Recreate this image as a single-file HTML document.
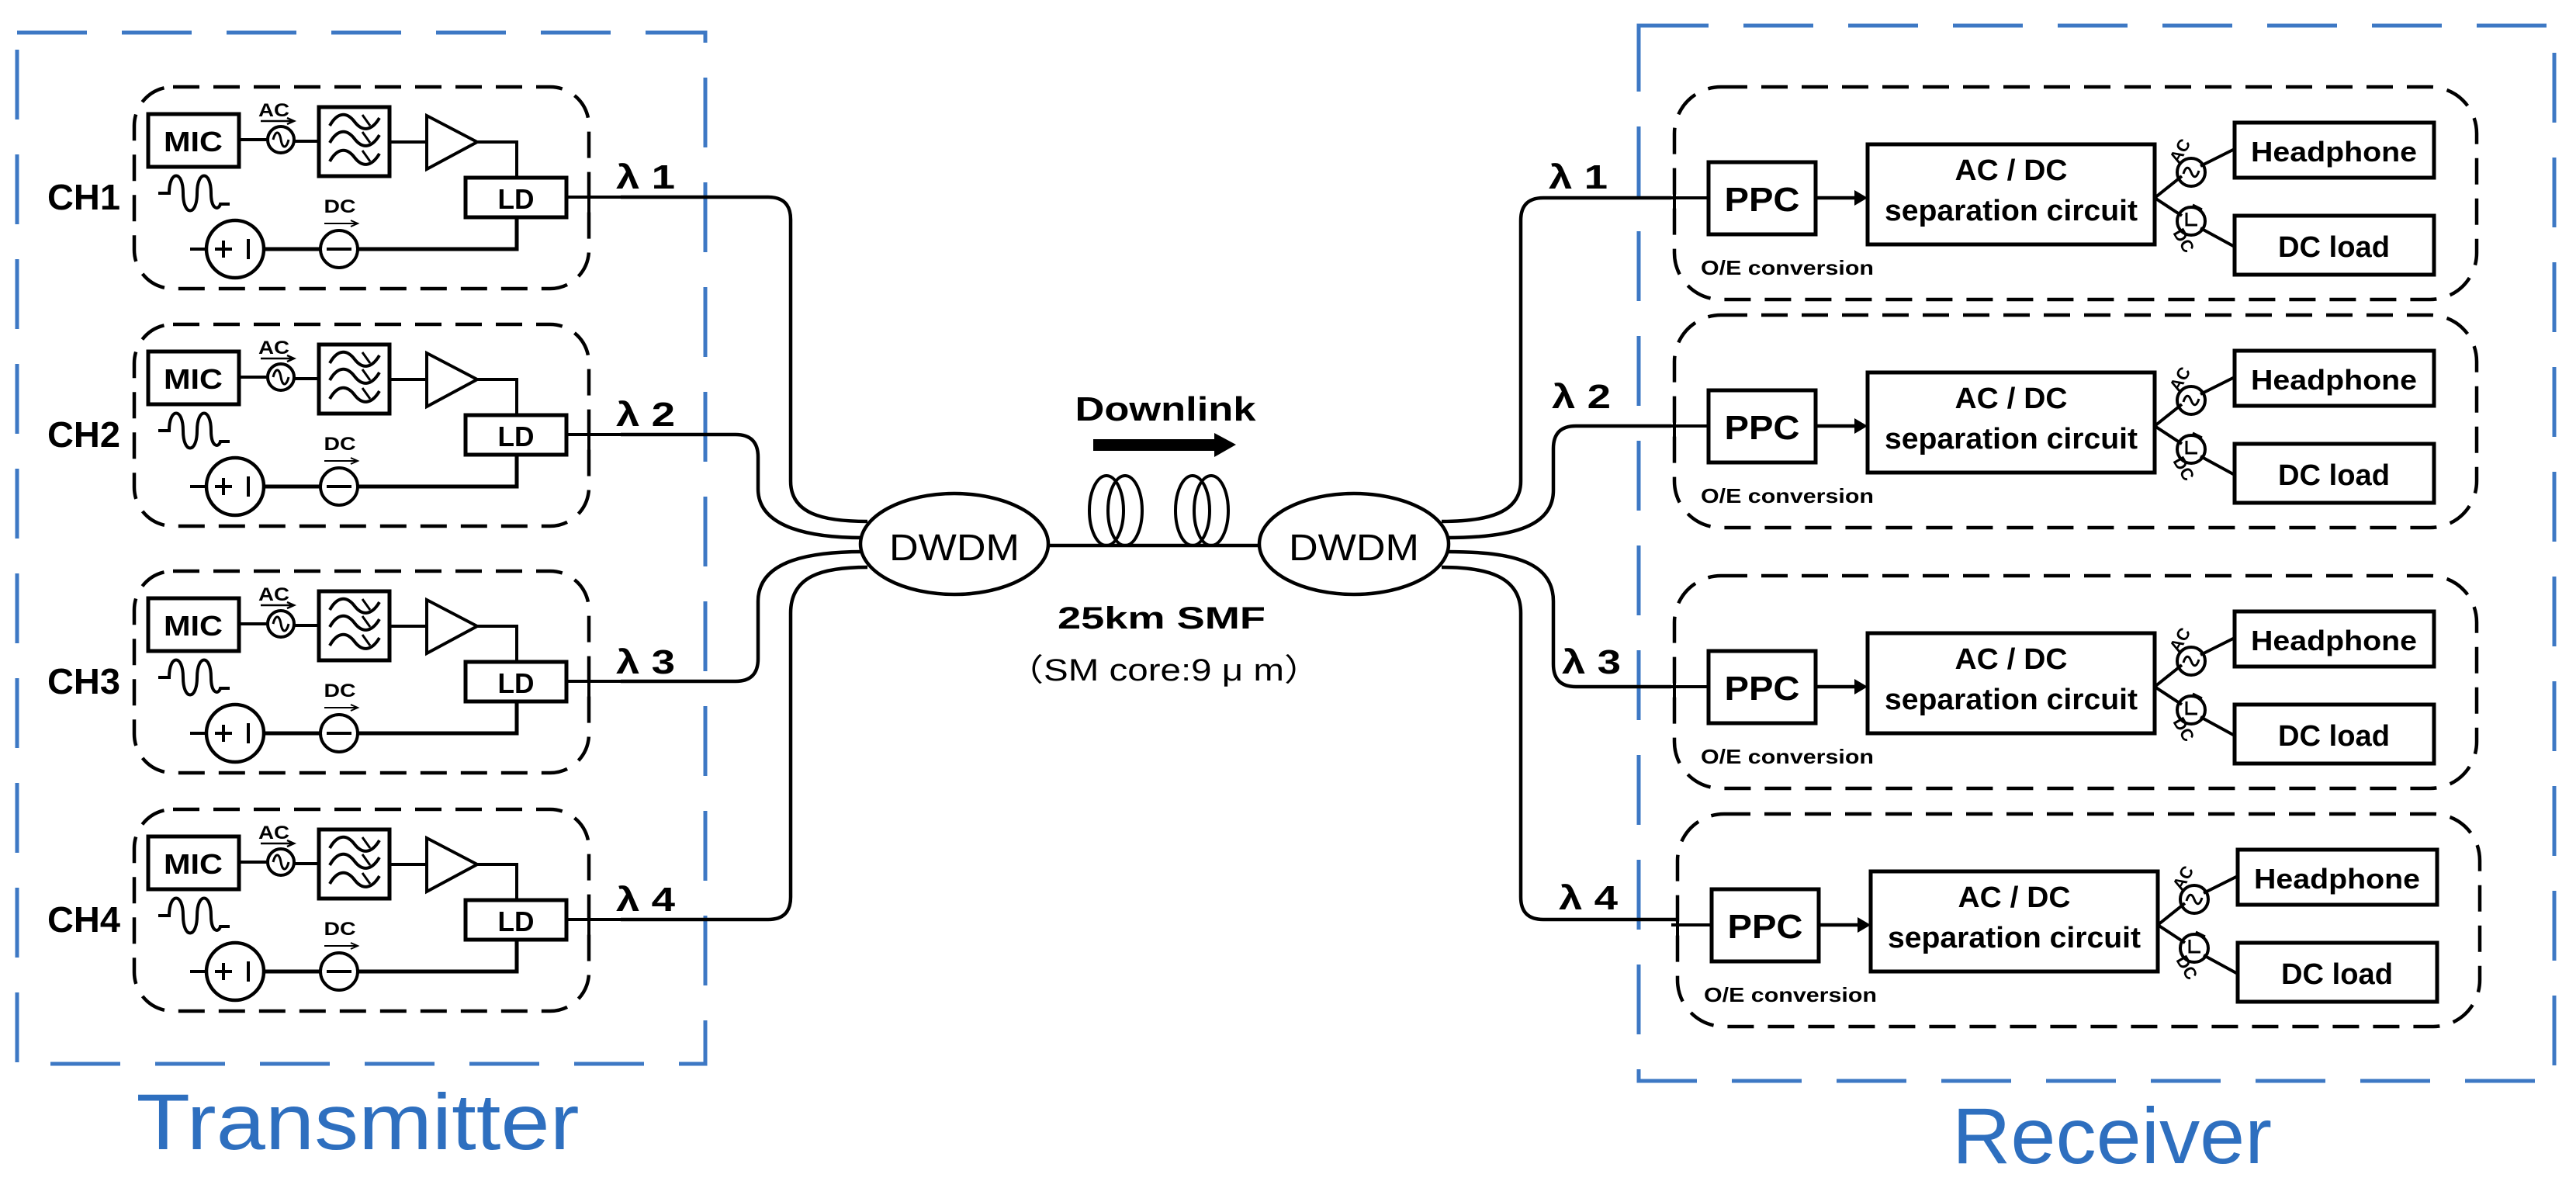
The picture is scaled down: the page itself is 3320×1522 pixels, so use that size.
<!DOCTYPE html>
<html><head><meta charset="utf-8"><style>
html,body{margin:0;padding:0;background:#fff}
svg{display:block}
text{font-family:"Liberation Sans","Noto Sans CJK SC",sans-serif;font-weight:bold;fill:#000}
</style></head><body>
<svg width="3320" height="1522" viewBox="0 0 3320 1522" xmlns="http://www.w3.org/2000/svg">
<defs>
<g id="tx">
  <rect x="173" y="0" width="586" height="260" rx="50" fill="none" stroke="#000" stroke-width="4.5" stroke-dasharray="34,18"/>
  <rect x="191" y="35" width="117" height="68" fill="none" stroke="#000" stroke-width="5"/>
  <text x="249" y="83" font-size="36" text-anchor="middle" textLength="76" lengthAdjust="spacingAndGlyphs">MIC</text>
  <line x1="308" y1="68" x2="345" y2="68" stroke="#000" stroke-width="4"/>
  <circle cx="362" cy="68" r="17" fill="none" stroke="#000" stroke-width="4"/>
  <path d="M352,68 c3,-12 8,-12 10,0 s7,12 10,0" fill="none" stroke="#000" stroke-width="3"/>
  <text x="353" y="38" font-size="24" text-anchor="middle" textLength="40" lengthAdjust="spacingAndGlyphs">AC</text>
  <path d="M336,44 H378 M370,40 L379,44 L370,48" fill="none" stroke="#000" stroke-width="2.5"/>
  <line x1="379" y1="70" x2="411" y2="70" stroke="#000" stroke-width="4"/>
  <rect x="411" y="26" width="91" height="89" fill="none" stroke="#000" stroke-width="5"/>
  <path d="M425,50 c10,-18 22,-18 32,-5 s22,12 32,-5 M425,72 c10,-18 22,-18 32,-5 s22,12 32,-5 M425,96 c10,-18 22,-18 32,-5 s22,12 32,-5" fill="none" stroke="#000" stroke-width="4"/>
  <path d="M467,36 l10,14 M467,58 l10,14 M467,82 l10,14" stroke="#000" stroke-width="3"/>
  <line x1="502" y1="71" x2="550" y2="71" stroke="#000" stroke-width="4"/>
  <polygon points="550,37 550,106 615,71" fill="none" stroke="#000" stroke-width="4"/>
  <path d="M615,71 H666 V117" fill="none" stroke="#000" stroke-width="4"/>
  <rect x="600" y="117" width="130" height="51" fill="#fff" stroke="#000" stroke-width="5"/>
  <text x="665" y="157" font-size="36" text-anchor="middle" textLength="47" lengthAdjust="spacingAndGlyphs">LD</text>
  <text x="61" y="158" font-size="46" textLength="94" lengthAdjust="spacingAndGlyphs" class="ch"/>
  <path d="M204,137 h14 c0,-30 18,-30 18,0 c0,30 18,30 18,0 c0,-30 18,-30 18,0 c0,22 10,22 12,14 h12" fill="none" stroke="#000" stroke-width="4"/>
  <text x="438" y="162" font-size="24" text-anchor="middle" textLength="41" lengthAdjust="spacingAndGlyphs">DC</text>
  <path d="M418,176 H460 M452,172 L461,176 L452,180" fill="none" stroke="#000" stroke-width="2"/>
  <line x1="245" y1="209" x2="266" y2="209" stroke="#000" stroke-width="4"/>
  <circle cx="303" cy="209" r="37" fill="none" stroke="#000" stroke-width="4.5"/>
  <path d="M277,209 h22 M288,198 v22 M320,196 v26" stroke="#000" stroke-width="4"/>
  <line x1="340" y1="209" x2="413" y2="209" stroke="#000" stroke-width="5"/>
  <circle cx="437" cy="209" r="24" fill="none" stroke="#000" stroke-width="4"/>
  <line x1="421" y1="209" x2="453" y2="209" stroke="#000" stroke-width="4"/>
  <path d="M461,209 H666 V168" fill="none" stroke="#000" stroke-width="5"/>
  <line x1="730" y1="142" x2="800" y2="142" stroke="#000" stroke-width="4"/>
  <line x1="759" y1="122" x2="759" y2="162" stroke="#000" stroke-width="4"/>
</g>
<g id="rx">
  <rect x="2158" y="0" width="1034" height="274" rx="60" fill="none" stroke="#000" stroke-width="4.5" stroke-dasharray="34,18"/>
  <line x1="2158" y1="123" x2="2158" y2="163" stroke="#000" stroke-width="4"/>
  <line x1="2150" y1="143" x2="2202" y2="143" stroke="#000" stroke-width="4"/>
  <rect x="2202" y="97" width="138" height="93" fill="none" stroke="#000" stroke-width="5"/>
  <text x="2271" y="160" font-size="44" text-anchor="middle" textLength="97" lengthAdjust="spacingAndGlyphs">PPC</text>
  <line x1="2340" y1="143" x2="2392" y2="143" stroke="#000" stroke-width="4.5"/>
  <polygon points="2390,133 2407,143 2390,153" fill="#000"/>
  <rect x="2407" y="74" width="370" height="129" fill="none" stroke="#000" stroke-width="5"/>
  <text x="2592" y="120" font-size="38" text-anchor="middle" textLength="145" lengthAdjust="spacingAndGlyphs">AC / DC</text>
  <text x="2592" y="172" font-size="38" text-anchor="middle" textLength="326" lengthAdjust="spacingAndGlyphs">separation circuit</text>
  <rect x="2880" y="46" width="257" height="71" fill="none" stroke="#000" stroke-width="5"/>
  <text x="3008" y="96" font-size="36" text-anchor="middle" textLength="214" lengthAdjust="spacingAndGlyphs">Headphone</text>
  <rect x="2880" y="166" width="257" height="76" fill="none" stroke="#000" stroke-width="5"/>
  <text x="3008" y="219" font-size="38" text-anchor="middle" textLength="144" lengthAdjust="spacingAndGlyphs">DC load</text>
  <path d="M2777,143 L2812,115 M2836,102 L2880,80 M2777,143 L2812,166 M2836,182 L2880,206" fill="none" stroke="#000" stroke-width="4"/>
  <circle cx="2824" cy="110" r="18" fill="none" stroke="#000" stroke-width="4"/>
  <path d="M2814,112 c3,-10 7,-10 10,-2 s7,8 10,-2" fill="none" stroke="#000" stroke-width="3"/>
  <circle cx="2824" cy="173" r="18" fill="none" stroke="#000" stroke-width="4"/>
  <path d="M2818,162 v16 h14 M2826,152 l12,6" fill="none" stroke="#000" stroke-width="3"/>
  <text x="0" y="0" font-size="22" transform="translate(2808,100) rotate(-60)">AC</text>
  <text x="0" y="0" font-size="22" transform="translate(2800,188) rotate(60)">DC</text>
  <text x="2192" y="242" font-size="26" textLength="223" lengthAdjust="spacingAndGlyphs">O/E conversion</text>
</g>
</defs>

<!-- blue dashed boxes -->
<rect x="22" y="42" width="887" height="1329" fill="none" stroke="#3d78c4" stroke-width="5" stroke-dasharray="90,45"/>
<rect x="2112" y="33" width="1180" height="1360" fill="none" stroke="#3d78c4" stroke-width="5" stroke-dasharray="90,45"/>
<text x="461" y="1481" font-size="102" font-weight="normal" style="font-weight:normal;fill:#2e6fbf" text-anchor="middle" textLength="571" lengthAdjust="spacingAndGlyphs">Transmitter</text>
<text x="2722" y="1499" font-size="102" style="font-weight:normal;fill:#2e6fbf" text-anchor="middle" textLength="412" lengthAdjust="spacingAndGlyphs">Receiver</text>

<!-- transmitter channels -->
<g transform="translate(0,112)"><use href="#tx"/><text x="61" y="158" font-size="46" textLength="94" lengthAdjust="spacingAndGlyphs">CH1</text></g>
<g transform="translate(0,418)"><use href="#tx"/><text x="61" y="158" font-size="46" textLength="94" lengthAdjust="spacingAndGlyphs">CH2</text></g>
<g transform="translate(0,736)"><use href="#tx"/><text x="61" y="158" font-size="46" textLength="94" lengthAdjust="spacingAndGlyphs">CH3</text></g>
<g transform="translate(0,1043)"><use href="#tx"/><text x="61" y="158" font-size="46" textLength="94" lengthAdjust="spacingAndGlyphs">CH4</text></g>

<!-- receiver channels -->
<g transform="translate(0,112)"><use href="#rx"/></g>
<g transform="translate(0,406)"><use href="#rx"/></g>
<g transform="translate(0,742)"><use href="#rx"/></g>
<g transform="translate(4,1049)"><use href="#rx"/></g>

<!-- lambda labels -->
<g font-size="44">
<text x="794" y="243" textLength="76" lengthAdjust="spacingAndGlyphs">λ 1</text>
<text x="794" y="549" textLength="76" lengthAdjust="spacingAndGlyphs">λ 2</text>
<text x="794" y="868" textLength="76" lengthAdjust="spacingAndGlyphs">λ 3</text>
<text x="794" y="1174" textLength="76" lengthAdjust="spacingAndGlyphs">λ 4</text>
<text x="1996" y="243" textLength="76" lengthAdjust="spacingAndGlyphs">λ 1</text>
<text x="2000" y="526" textLength="76" lengthAdjust="spacingAndGlyphs">λ 2</text>
<text x="2013" y="868" textLength="76" lengthAdjust="spacingAndGlyphs">λ 3</text>
<text x="2009" y="1172" textLength="76" lengthAdjust="spacingAndGlyphs">λ 4</text>
</g>

<!-- fibers -->
<g fill="none" stroke="#000" stroke-width="4.5">
<path d="M800,254 H990 Q1019,254 1019,283 V620 C1019,662 1060,672 1118,672"/>
<path d="M800,560 H948 Q977,560 977,589 V630 C977,682 1050,693 1112,693"/>
<path d="M800,878 H948 Q977,878 977,849 V775 C977,720 1050,711 1112,711"/>
<path d="M800,1185 H990 Q1019,1185 1019,1156 V790 C1019,742 1060,731 1118,731"/>
<path d="M1858,672 C1915,672 1960,662 1960,620 V284 Q1960,255 1989,255 H2154"/>
<path d="M1864,693 C1940,693 2002,682 2002,632 V578 Q2002,549 2031,549 H2154"/>
<path d="M1864,711 C1940,711 2002,720 2002,775 V856 Q2002,885 2031,885 H2154"/>
<path d="M1858,731 C1915,731 1960,742 1960,790 V1156 Q1960,1185 1989,1185 H2160"/>
<line x1="1351" y1="703" x2="1623" y2="703"/>
</g>
<!-- DWDM -->
<ellipse cx="1230" cy="701" rx="121" ry="65" fill="#fff" stroke="#000" stroke-width="4.5"/>
<ellipse cx="1745" cy="701" rx="122" ry="65" fill="#fff" stroke="#000" stroke-width="4.5"/>
<text x="1230" y="722" font-size="48" style="font-weight:normal" text-anchor="middle" textLength="168" lengthAdjust="spacingAndGlyphs">DWDM</text>
<text x="1745" y="722" font-size="48" style="font-weight:normal" text-anchor="middle" textLength="168" lengthAdjust="spacingAndGlyphs">DWDM</text>
<!-- coils -->
<g fill="none" stroke="#000" stroke-width="4">
<ellipse cx="1426" cy="658" rx="22" ry="45"/>
<ellipse cx="1450" cy="658" rx="22" ry="45"/>
<ellipse cx="1537" cy="658" rx="22" ry="45"/>
<ellipse cx="1561" cy="658" rx="22" ry="45"/>
</g>
<text x="1502" y="542" font-size="44" text-anchor="middle" textLength="233" lengthAdjust="spacingAndGlyphs">Downlink</text>
<rect x="1409" y="566" width="160" height="15" fill="#000"/>
<polygon points="1565,558 1593,573 1565,589" fill="#000"/>
<text x="1497" y="810" font-size="40" text-anchor="middle" textLength="268" lengthAdjust="spacingAndGlyphs">25km  SMF</text>
<text x="1500" y="877" font-size="40" style="font-weight:normal" text-anchor="middle" textLength="405" lengthAdjust="spacingAndGlyphs">（SM core:9 μ m）</text>
</svg>
</body></html>
